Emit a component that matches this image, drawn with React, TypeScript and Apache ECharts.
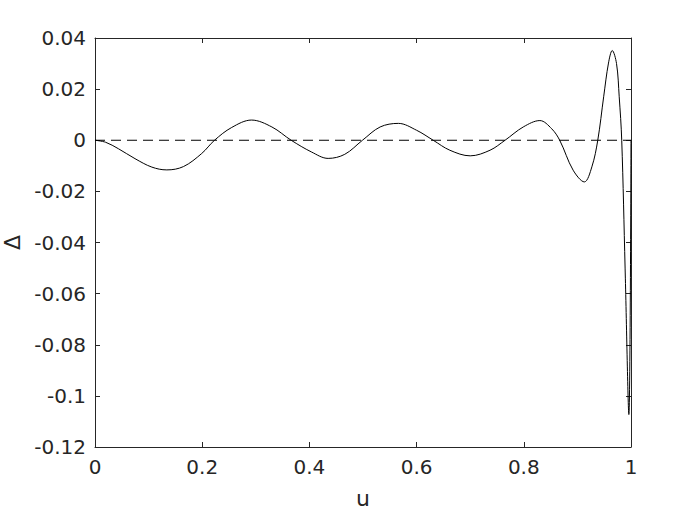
import React, { useEffect, useRef } from "react";
import * as echarts from "echarts";

const uValues = [
  0, 0.02, 0.0435, 0.0746, 0.106, 0.134, 0.165, 0.199, 0.223, 0.255, 0.292,
  0.33, 0.366, 0.404, 0.435, 0.466, 0.499, 0.532, 0.566, 0.6, 0.631, 0.662,
  0.7, 0.737, 0.765, 0.799, 0.83, 0.852, 0.867, 0.892, 0.913, 0.927, 0.938,
  0.949, 0.958, 0.965, 0.973, 0.978, 0.9827, 0.989, 0.996, 1.0,
];
const deltaValues = [
  0, -0.0008, -0.0033, -0.0072, -0.0105, -0.0116, -0.0103, -0.0052, 0, 0.005,
  0.0079, 0.0052, 0, -0.0046, -0.0071, -0.0055, 0, 0.0052, 0.0066, 0.0039, 0,
  -0.0039, -0.0061, -0.0039, 0, 0.0052, 0.0077, 0.0045, 0, -0.0117, -0.0163,
  -0.0104, 0, 0.017, 0.0302, 0.0351, 0.03, 0.017, 0, -0.05, -0.1073, 0,
];
const zeroLine = [
  [0, 0],
  [1, 0],
];

const fmt = (v: number) => {
  const r = Math.round(v * 1000) / 1000;
  return r === 0 ? "0" : String(r);
};

export default function App() {
  const ref = useRef<HTMLDivElement>(null);
  useEffect(() => {
    if (!ref.current) return;
    const chart = echarts.init(ref.current, undefined, { renderer: "svg" });
    const font = "DejaVu Sans";
    const textColor = "#262626";
    const axisLine = { show: true, onZero: false, lineStyle: { color: "#262626", width: 1 } };
    const axisTick = { show: true, inside: true, length: 5, lineStyle: { color: "#262626" } };
    chart.setOption({
      animation: false,
      backgroundColor: "#ffffff",
      grid: {
        left: 95,
        top: 38,
        width: 536,
        height: 409,
        containLabel: false,
        outerBoundsMode: "none",
      },
      xAxis: [
        {
          type: "value",
          min: 0,
          max: 1,
          interval: 0.2,
          position: "bottom",
          name: "u",
          nameLocation: "middle",
          nameGap: 40,
          nameTextStyle: { fontFamily: font, fontSize: 22, color: textColor },
          axisLine,
          axisTick,
          axisLabel: {
            fontFamily: font,
            fontSize: 20,
            color: textColor,
            margin: 10,
            formatter: (v: number) => fmt(v),
          },
          splitLine: { show: false },
        },
        {
          type: "value",
          min: 0,
          max: 1,
          interval: 0.2,
          position: "top",
          axisLine,
          axisTick,
          axisLabel: { show: false },
          splitLine: { show: false },
        },
      ],
      yAxis: [
        {
          type: "value",
          min: -0.12,
          max: 0.04,
          interval: 0.02,
          position: "left",
          name: "Δ",
          nameLocation: "middle",
          nameGap: 70,
          nameRotate: 90,
          nameTextStyle: { fontFamily: font, fontSize: 22, color: textColor },
          axisLine,
          axisTick,
          axisLabel: {
            fontFamily: font,
            fontSize: 20,
            color: textColor,
            margin: 9,
            formatter: (v: number) => fmt(v),
          },
          splitLine: { show: false },
        },
        {
          type: "value",
          min: -0.12,
          max: 0.04,
          interval: 0.02,
          position: "right",
          axisLine,
          axisTick,
          axisLabel: { show: false },
          splitLine: { show: false },
        },
      ],
      series: [
        {
          type: "line",
          data: zeroLine,
          showSymbol: false,
          symbol: "none",
          lineStyle: { color: "#000000", width: 1, type: [10, 6] },
          silent: true,
          z: 1,
        },
        {
          type: "line",
          data: uValues.map((u, i) => [u, deltaValues[i]]),
          showSymbol: false,
          symbol: "none",
          smooth: 0.35,
          lineStyle: { color: "#000000", width: 1 },
          z: 2,
        },
      ],
    });
    return () => chart.dispose();
  }, []);
  return <div ref={ref} style={{ width: 698, height: 512, position: "absolute", left: 0, top: 0 }} />;
}
